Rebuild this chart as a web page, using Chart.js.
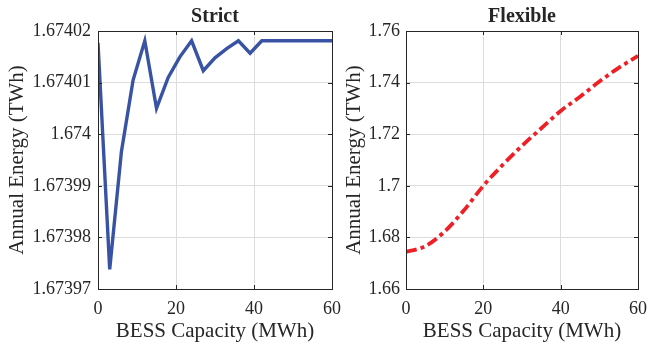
<!DOCTYPE html>
<html>
<head>
<meta charset="utf-8">
<script src="https://cdn.jsdelivr.net/npm/chart.js@4.4.1/dist/chart.umd.min.js"></script>
<style>
  html, body { margin: 0; padding: 0; background: #fff; }
  #wrap { position: relative; width: 648px; height: 347px; }
  canvas { position: absolute; left: 0; top: 0; }
</style>
</head>
<body>
<div id="wrap">
  <canvas id="strict" width="648" height="347"></canvas>
  <canvas id="flexible" width="648" height="347"></canvas>
</div>
<script>
// values
const strictCapacity = [0, 3, 6, 9, 12, 15, 18, 21, 24, 27, 30, 33, 36, 39, 42, 45, 48, 51, 54, 57, 60]
const strictEnergy = [1.6740177, 1.6739738, 1.6739966, 1.6740105, 1.6740181, 1.674005, 1.674011,
    1.674015, 1.6740181, 1.6740123, 1.6740148, 1.6740166, 1.6740181, 1.6740157, 1.6740181,
    1.6740181, 1.6740181, 1.6740181, 1.6740181, 1.6740181, 1.6740181]

const flexCapacity = [0, 5, 10, 15, 20, 25, 30, 35, 40, 45, 50, 55, 60]
const flexEnergy = [1.6744, 1.6766, 1.6823, 1.6905, 1.7, 1.7081, 1.7155, 1.7223, 1.729, 1.7345, 1.7404, 1.7457, 1.7504]

const xTicks = [0, 20, 40, 60]
const xTickLabels = ['0', '20', '40', '60']
const strictTicks = [1.67397, 1.67398, 1.67399, 1.674, 1.67401, 1.67402]
const strictTickLabels = ['1.67397', '1.67398', '1.67399', '1.674', '1.67401', '1.67402']
const flexTicks = [1.66, 1.68, 1.7, 1.72, 1.74, 1.76]
const flexTickLabels = ['1.66', '1.68', '1.7', '1.72', '1.74', '1.76']

const FONT = "'Liberation Serif', 'Times New Roman', serif"
const INK = '#262626'

// MATLAB-like box with inward tick marks
const framePlugin = {
    id: 'frame',
    afterDatasetsDraw(chart) {
        const ctx = chart.ctx
        const a = chart.chartArea
        const x = chart.scales.x
        const y = chart.scales.y
        ctx.save()
        ctx.strokeStyle = INK
        ctx.lineWidth = 1
        ctx.beginPath()
        x.ticks.forEach((t, i) => {
            const px = Math.round(x.getPixelForTick(i)) + 0.5
            ctx.moveTo(px, a.bottom); ctx.lineTo(px, a.bottom - 4)
            ctx.moveTo(px, a.top); ctx.lineTo(px, a.top + 4)
        })
        y.ticks.forEach((t, i) => {
            const py = Math.round(y.getPixelForTick(i)) + 0.5
            ctx.moveTo(a.left, py); ctx.lineTo(a.left + 4, py)
            ctx.moveTo(a.right, py); ctx.lineTo(a.right - 4, py)
        })
        ctx.stroke()
        ctx.strokeRect(Math.round(a.left) + 0.5, Math.round(a.top) + 0.5,
            Math.round(a.right - a.left), Math.round(a.bottom - a.top))
        ctx.restore()
    }
}

function makeChart(id, opts) {
    const points = opts.xs.map((v, i) => ({ x: v, y: opts.ys[i] }))
    return new Chart(document.getElementById(id).getContext('2d'), {
        type: 'line',
        data: {
            datasets: [{
                data: points,
                borderColor: opts.color,
                borderWidth: opts.width,
                borderDash: opts.dash,
                borderCapStyle: 'butt',
                borderJoinStyle: 'miter',
                pointRadius: 0,
                tension: opts.smooth ? 0.4 : 0,
                cubicInterpolationMode: opts.smooth ? 'monotone' : 'default',
                fill: false
            }]
        },
        options: {
            responsive: false,
            animation: false,
            devicePixelRatio: 1,
            layout: { padding: opts.padding },
            plugins: {
                legend: { display: false },
                tooltip: { enabled: false },
                title: {
                    display: true,
                    text: opts.title,
                    fullSize: false,
                    color: INK,
                    font: { family: FONT, size: 20, weight: 'bold' },
                    padding: { top: 5, bottom: 2 }
                }
            },
            scales: {
                x: {
                    type: 'linear',
                    min: 0,
                    max: 60,
                    afterBuildTicks: s => { s.ticks = xTicks.map(v => ({ value: v })) },
                    afterFit: s => { s.height = 58; s.paddingLeft = 0; s.paddingRight = 0 },
                    ticks: {
                        color: INK,
                        font: { family: FONT, size: 18 },
                        padding: 9,
                        maxRotation: 0,
                        callback: (v, i) => xTickLabels[i]
                    },
                    grid: { color: '#dcdcdc', drawTicks: false },
                    border: { display: false },
                    title: {
                        display: true,
                        text: 'BESS Capacity (MWh)',
                        color: INK,
                        font: { family: FONT, size: 21 },
                        padding: { top: 0, bottom: 3 }
                    }
                },
                y: {
                    type: 'linear',
                    min: opts.yTicks[0],
                    max: opts.yTicks[opts.yTicks.length - 1],
                    afterBuildTicks: s => { s.ticks = opts.yTicks.map(v => ({ value: v })) },
                    afterFit: s => { s.width = opts.yWidth; s.paddingTop = 0; s.paddingBottom = 0 },
                    ticks: {
                        color: INK,
                        font: { family: FONT, size: 18 },
                        padding: opts.tickPad,
                        callback: (v, i) => opts.yLabels[i]
                    },
                    grid: { color: '#dcdcdc', drawTicks: false },
                    border: { display: false },
                    title: {
                        display: true,
                        text: 'Annual Energy (TWh)',
                        color: INK,
                        font: { family: FONT, size: 21 },
                        padding: { top: 5, bottom: 0 }
                    }
                }
            }
        },
        plugins: [framePlugin]
    })
}

makeChart('strict', {
    title: 'Strict',
    xs: strictCapacity,
    ys: strictEnergy,
    color: '#3953a4',
    width: 3.4,
    dash: [],
    smooth: false,
    yTicks: strictTicks,
    yLabels: strictTickLabels,
    yWidth: 98,
    tickPad: 7,
    padding: { left: 0, right: 316, top: 0, bottom: 0 }
})

makeChart('flexible', {
    title: 'Flexible',
    xs: flexCapacity,
    ys: flexEnergy,
    color: '#ee2026',
    width: 3.8,
    dash: [11, 4, 4, 4],
    smooth: true,
    yTicks: flexTicks,
    yLabels: flexTickLabels,
    yWidth: 69,
    tickPad: 6,
    padding: { left: 337, right: 10, top: 0, bottom: 0 }
})
</script>
</body>
</html>
